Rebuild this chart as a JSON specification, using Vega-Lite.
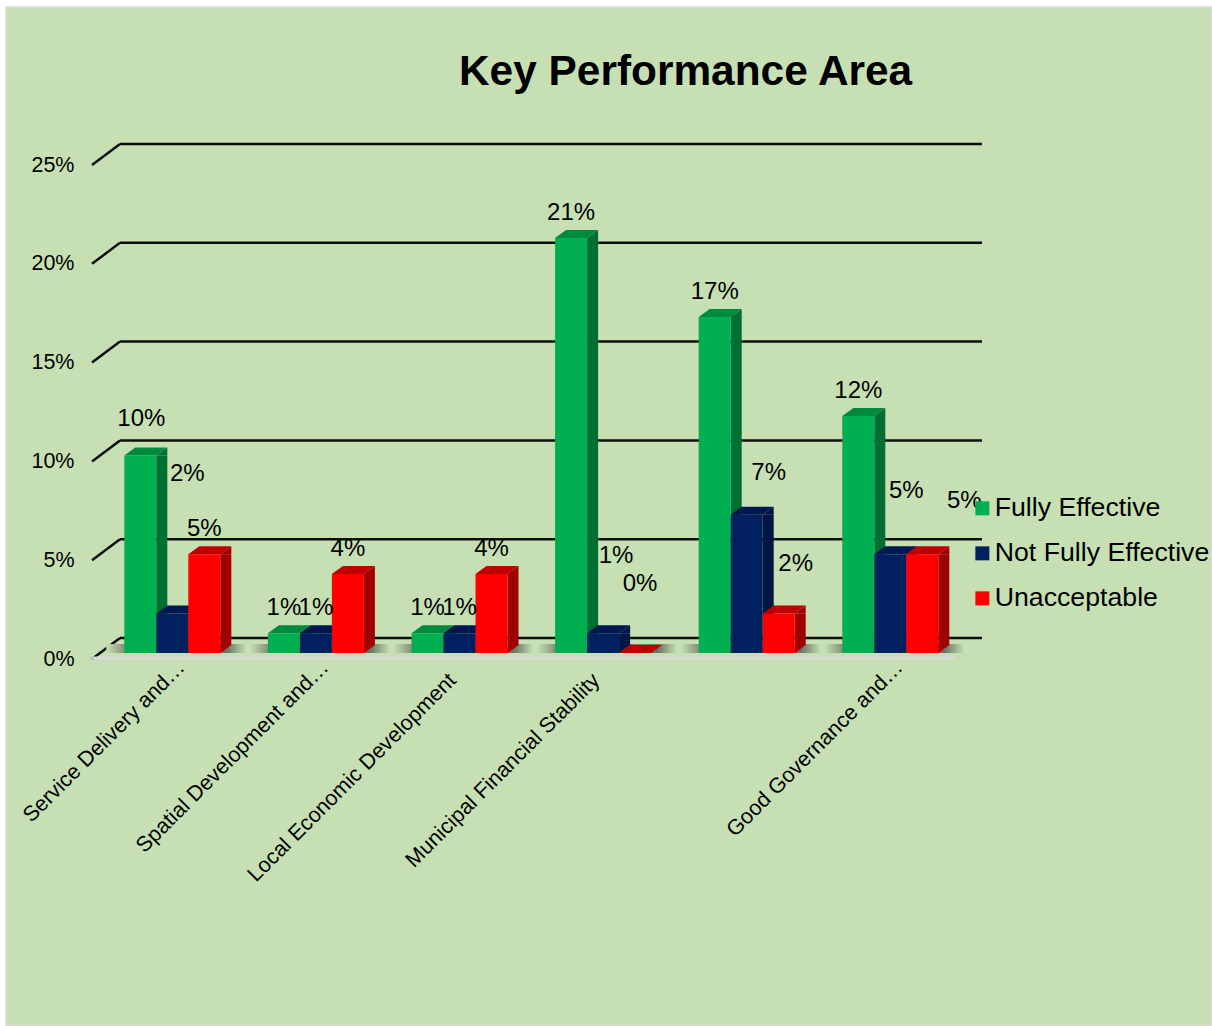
{"$schema":"https://vega.github.io/schema/vega-lite/v6.json","width":1206,"height":1019,"autosize":"none","padding":{"left":6,"top":7,"right":0,"bottom":0},"background":"#ffffff","config":{"font":"Liberation Sans","view":{"fill":"#C6E0B4","stroke":"#D9D9D9","strokeWidth":1.5}},"title":{"text":"Key Performance Area","font":"Liberation Sans","fontSize":42.4,"fontWeight":"bold","color":"#000000","anchor":"start","frame":"group","dx":453,"dy":87,"offset":0},"datasets":{"ticks":[{"tick":0},{"tick":0.05},{"tick":0.1},{"tick":0.15},{"tick":0.2},{"tick":0.25}],"rows":[{"category":"Service Delivery and…","series":"Fully Effective","value":0.1},{"category":"Service Delivery and…","series":"Not Fully Effective","value":0.02},{"category":"Service Delivery and…","series":"Unacceptable","value":0.05},{"category":"Spatial Development and…","series":"Fully Effective","value":0.01},{"category":"Spatial Development and…","series":"Not Fully Effective","value":0.01},{"category":"Spatial Development and…","series":"Unacceptable","value":0.04},{"category":"Local Economic Development","series":"Fully Effective","value":0.01},{"category":"Local Economic Development","series":"Not Fully Effective","value":0.01},{"category":"Local Economic Development","series":"Unacceptable","value":0.04},{"category":"Municipal Financial Stability","series":"Fully Effective","value":0.21},{"category":"Municipal Financial Stability","series":"Not Fully Effective","value":0.01},{"category":"Municipal Financial Stability","series":"Unacceptable","value":0},{"category":"Municipal Transformation and…","series":"Fully Effective","value":0.17},{"category":"Municipal Transformation and…","series":"Not Fully Effective","value":0.07},{"category":"Municipal Transformation and…","series":"Unacceptable","value":0.02},{"category":"Good Governance and…","series":"Fully Effective","value":0.12},{"category":"Good Governance and…","series":"Not Fully Effective","value":0.05},{"category":"Good Governance and…","series":"Unacceptable","value":0.05}]},"resolve":{"scale":{"x":"independent"}},"encoding":{"y":{"field":"value","type":"quantitative","title":null,"scale":{"domain":[0,0.25],"range":[646,152],"nice":false},"axis":{"orient":"left","offset":-70,"values":[0,0.05,0.1,0.15,0.2,0.25],"format":".0%","domain":false,"ticks":false,"grid":false,"labelFontSize":21.5,"labelPadding":2,"labelOffset":6,"labelColor":"#000000","title":null}}},"layer":[{"data":{"name":"ticks"},"layer":[{"mark":{"type":"rule","color":"#0d0d0d","strokeWidth":2.5,"yOffset":-15,"y2Offset":-15},"encoding":{"x":{"datum":0,"type":"quantitative","scale":{"domain":[0,1],"range":[114,976]},"axis":null},"x2":{"datum":1},"y":{"field":"tick","type":"quantitative"},"y2":{"field":"tick"}}},{"mark":{"type":"rule","color":"#0d0d0d","strokeWidth":2.5,"xOffset":-28,"yOffset":6,"y2Offset":-15},"encoding":{"x":{"datum":0,"type":"quantitative","scale":{"domain":[0,1],"range":[114,976]},"axis":null},"x2":{"datum":0},"y":{"field":"tick","type":"quantitative"},"y2":{"field":"tick"}}},{"transform":[{"filter":"datum.tick==0"}],"mark":{"type":"rule","color":"#D9D9D9","strokeWidth":3,"xOffset":-28,"x2Offset":-27,"yOffset":5,"y2Offset":5},"encoding":{"x":{"datum":0,"type":"quantitative","scale":{"domain":[0,1],"range":[114,976]},"axis":null},"x2":{"datum":1},"y":{"field":"tick","type":"quantitative"},"y2":{"field":"tick"}}}]},{"data":{"name":"rows"},"resolve":{"scale":{"color":"independent"}},"encoding":{"x":{"field":"category","type":"nominal","sort":null,"title":null,"scale":{"range":[70.7,979.9],"padding":0.3315},"axis":{"orient":"bottom","offset":-366,"values":["Service Delivery and…","Spatial Development and…","Local Economic Development","Municipal Financial Stability","Good Governance and…"],"labelAngle":-45,"labelAlign":"right","labelBaseline":"middle","labelFontSize":21.5,"labelColor":"#000000","labelLimit":500,"labelOverlap":false,"labelPadding":{"expr":"indexof(datum.label,'…')>=0?4:17"},"labelOffset":{"expr":"indexof(datum.label,'…')>=0?9.5:-6.5"},"domain":false,"ticks":false,"grid":false,"title":null}}},"layer":[{"transform":[{"filter":"datum.series=='Fully Effective'"}],"mark":{"type":"bar","width":140,"xOffset":4,"yOffset":0,"y2Offset":-9,"color":{"x1":0,"x2":1,"y1":0,"y2":0,"gradient":"linear","stops":[{"offset":0,"color":"#C6E0B4"},{"offset":0.14,"color":"#7f8a76"},{"offset":0.86,"color":"#6a7264"},{"offset":1,"color":"#C6E0B4"}]}},"encoding":{"y":{"datum":0,"type":"quantitative"},"y2":{"datum":0}}},{"transform":[{"filter":"datum.value>0&&datum.series=='Fully Effective'"}],"mark":{"type":"bar","width":11,"xOffset":-10.5,"y2Offset":-8,"color":"#006F32"},"encoding":{"y":{"field":"value","type":"quantitative"},"y2":{"datum":0}}},{"transform":[{"filter":"datum.value>0&&datum.series=='Not Fully Effective'"}],"mark":{"type":"bar","width":11,"xOffset":21.5,"y2Offset":-8,"color":"#001645"},"encoding":{"y":{"field":"value","type":"quantitative"},"y2":{"datum":0}}},{"transform":[{"filter":"datum.value>0&&datum.series=='Unacceptable'"}],"mark":{"type":"bar","width":11,"xOffset":53.5,"y2Offset":-8,"color":"#A00000"},"encoding":{"y":{"field":"value","type":"quantitative"},"y2":{"datum":0}}},{"transform":[{"filter":"datum.value>0"}],"mark":{"type":"point","filled":true,"opacity":1,"size":1849,"shape":"M0.744,0L1.256,-0.372L1.256,0Z"},"encoding":{"y":{"field":"value","type":"quantitative"},"xOffset":{"field":"series","type":"nominal","scale":{"padding":0}},"color":{"field":"series","type":"nominal","legend":null,"scale":{"domain":["Fully Effective","Not Fully Effective","Unacceptable"],"range":["#006F32","#001645","#A00000"]}}}},{"transform":[{"filter":"datum.value>0"}],"mark":{"type":"point","filled":true,"opacity":1,"size":1849,"shape":"M0.744,0L0.744,-0.372L1.256,-0.372Z"},"encoding":{"y":{"datum":0,"type":"quantitative"},"xOffset":{"field":"series","type":"nominal","scale":{"padding":0}},"color":{"field":"series","type":"nominal","legend":null,"scale":{"domain":["Fully Effective","Not Fully Effective","Unacceptable"],"range":["#006F32","#001645","#A00000"]}}}},{"mark":{"type":"point","filled":true,"opacity":1,"size":1849,"shape":"M-0.744,0L0.744,0L1.256,-0.372L-0.233,-0.372Z"},"encoding":{"y":{"field":"value","type":"quantitative"},"xOffset":{"field":"series","type":"nominal","scale":{"padding":0}},"color":{"field":"series","type":"nominal","legend":null,"scale":{"domain":["Fully Effective","Not Fully Effective","Unacceptable"],"range":["#008A3E","#001850","#C00000"]}}}},{"mark":{"type":"bar"},"encoding":{"y":{"field":"value","type":"quantitative"},"y2":{"datum":0},"xOffset":{"field":"series","type":"nominal","scale":{"padding":0}},"color":{"field":"series","type":"nominal","title":null,"scale":{"domain":["Fully Effective","Not Fully Effective","Unacceptable"],"range":["#00B050","#002060","#FF0000"]},"legend":{"orient":"none","legendX":963,"legendY":488,"title":null,"symbolType":"square","symbolSize":196,"symbolStrokeWidth":0,"labelFontSize":26.7,"labelColor":"#000000","labelOffset":-1,"labelLimit":400,"rowPadding":17,"padding":0}}}},{"transform":[{"filter":"!((datum.value==0.1)||(datum.value==0.02)||(datum.value==0)||(datum.value==0.07)||(datum.value==0.01&&datum.category=='Municipal Financial Stability')||(datum.value==0.05&&datum.category=='Good Governance and…'))"}],"mark":{"type":"text","fontSize":24,"dy":-25,"color":"#000000"},"encoding":{"y":{"field":"value","type":"quantitative"},"xOffset":{"field":"series","type":"nominal","scale":{"padding":0}},"text":{"field":"value","type":"quantitative","format":".0%"}}},{"transform":[{"filter":"datum.value==0.1"}],"mark":{"type":"text","fontSize":24,"dx":1,"dy":-36,"color":"#000000"},"encoding":{"y":{"field":"value","type":"quantitative"},"xOffset":{"field":"series","type":"nominal","scale":{"padding":0}},"text":{"field":"value","type":"quantitative","format":".0%"}}},{"transform":[{"filter":"datum.value==0.02&&datum.series=='Not Fully Effective'"}],"mark":{"type":"text","fontSize":24,"dx":15,"dy":-139,"color":"#000000"},"encoding":{"y":{"field":"value","type":"quantitative"},"xOffset":{"field":"series","type":"nominal","scale":{"padding":0}},"text":{"field":"value","type":"quantitative","format":".0%"}}},{"transform":[{"filter":"datum.value==0.01&&datum.category=='Municipal Financial Stability'"}],"mark":{"type":"text","fontSize":24,"dx":13,"dy":-77,"color":"#000000"},"encoding":{"y":{"field":"value","type":"quantitative"},"xOffset":{"field":"series","type":"nominal","scale":{"padding":0}},"text":{"field":"value","type":"quantitative","format":".0%"}}},{"transform":[{"filter":"datum.value==0"}],"mark":{"type":"text","fontSize":24,"dx":5,"dy":-69,"color":"#000000"},"encoding":{"y":{"field":"value","type":"quantitative"},"xOffset":{"field":"series","type":"nominal","scale":{"padding":0}},"text":{"field":"value","type":"quantitative","format":".0%"}}},{"transform":[{"filter":"datum.value==0.07"}],"mark":{"type":"text","fontSize":24,"dx":22,"dy":-42,"color":"#000000"},"encoding":{"y":{"field":"value","type":"quantitative"},"xOffset":{"field":"series","type":"nominal","scale":{"padding":0}},"text":{"field":"value","type":"quantitative","format":".0%"}}},{"transform":[{"filter":"datum.value==0.02&&datum.series=='Unacceptable'"}],"mark":{"type":"text","fontSize":24,"dx":17,"dy":-49,"color":"#000000"},"encoding":{"y":{"field":"value","type":"quantitative"},"xOffset":{"field":"series","type":"nominal","scale":{"padding":0}},"text":{"field":"value","type":"quantitative","format":".0%"}}},{"transform":[{"filter":"datum.value==0.05&&datum.category=='Good Governance and…'&&datum.series=='Not Fully Effective'"}],"mark":{"type":"text","fontSize":24,"dx":16,"dy":-63,"color":"#000000"},"encoding":{"y":{"field":"value","type":"quantitative"},"xOffset":{"field":"series","type":"nominal","scale":{"padding":0}},"text":{"field":"value","type":"quantitative","format":".0%"}}},{"transform":[{"filter":"datum.value==0.05&&datum.category=='Good Governance and…'&&datum.series=='Unacceptable'"}],"mark":{"type":"text","fontSize":24,"dx":42,"dy":-53,"color":"#000000"},"encoding":{"y":{"field":"value","type":"quantitative"},"xOffset":{"field":"series","type":"nominal","scale":{"padding":0}},"text":{"field":"value","type":"quantitative","format":".0%"}}}]}]}
